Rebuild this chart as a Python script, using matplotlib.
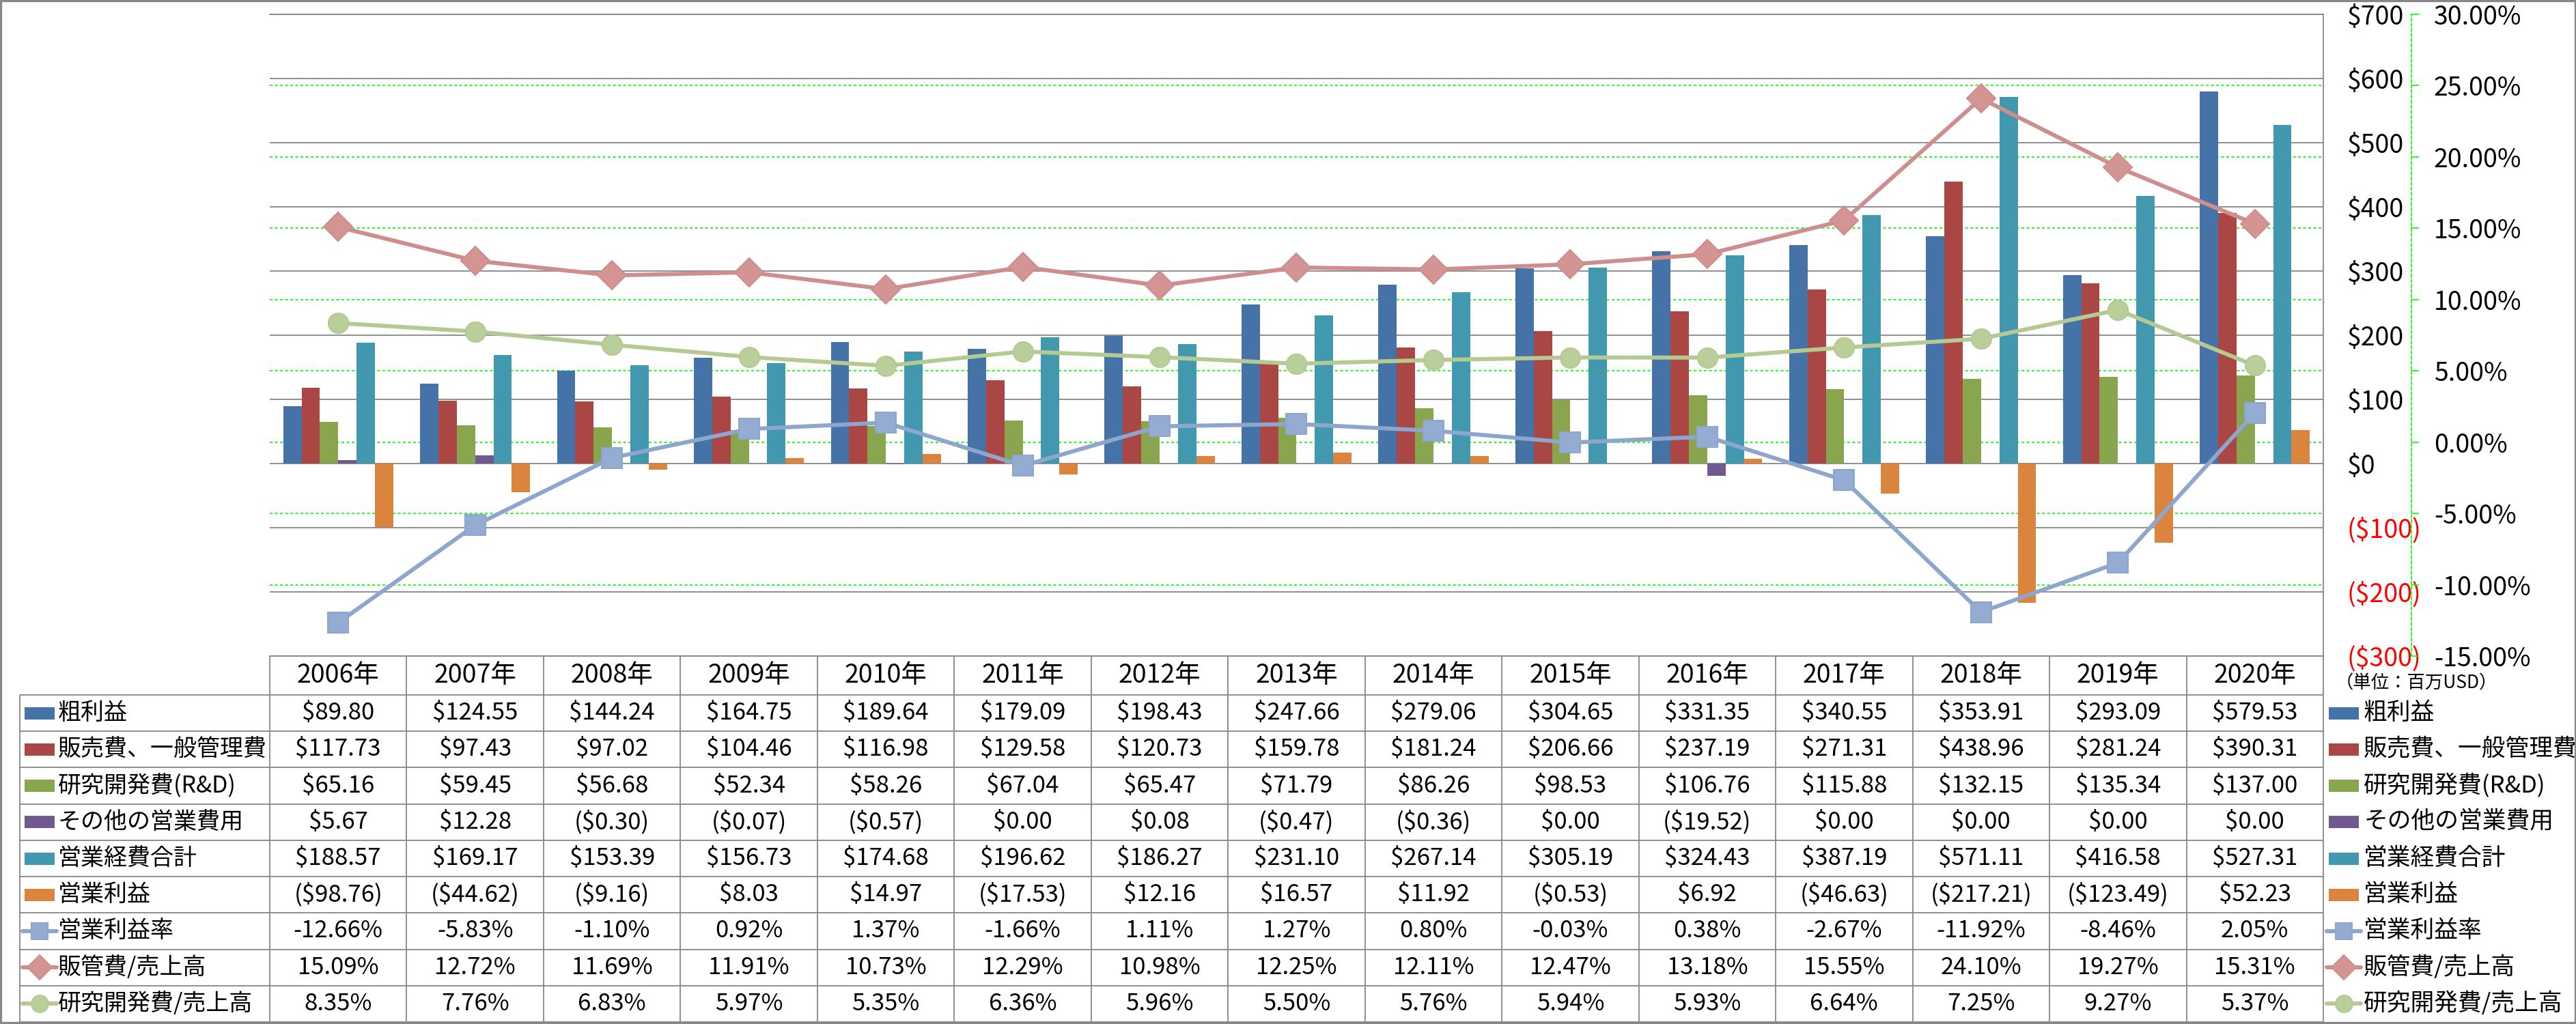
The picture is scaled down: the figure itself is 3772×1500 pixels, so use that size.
import matplotlib
matplotlib.use('Agg')
import matplotlib.pyplot as plt
from matplotlib.patches import Rectangle
import numpy as np

plt.rcParams['font.family'] = ['Noto Sans CJK JP', 'DejaVu Sans']

# ---------------- data ----------------
years = ['2006年', '2007年', '2008年', '2009年', '2010年', '2011年', '2012年', '2013年',
         '2014年', '2015年', '2016年', '2017年', '2018年', '2019年', '2020年']
gross_profit = [89.80, 124.55, 144.24, 164.75, 189.64, 179.09, 198.43, 247.66, 279.06, 304.65,
                331.35, 340.55, 353.91, 293.09, 579.53]
sga = [117.73, 97.43, 97.02, 104.46, 116.98, 129.58, 120.73, 159.78, 181.24, 206.66,
       237.19, 271.31, 438.96, 281.24, 390.31]
rnd = [65.16, 59.45, 56.68, 52.34, 58.26, 67.04, 65.47, 71.79, 86.26, 98.53,
       106.76, 115.88, 132.15, 135.34, 137.00]
other_opex = [5.67, 12.28, -0.30, -0.07, -0.57, 0.00, 0.08, -0.47, -0.36, 0.00,
              -19.52, 0.00, 0.00, 0.00, 0.00]
total_opex = [188.57, 169.17, 153.39, 156.73, 174.68, 196.62, 186.27, 231.10, 267.14, 305.19,
              324.43, 387.19, 571.11, 416.58, 527.31]
op_income = [-98.76, -44.62, -9.16, 8.03, 14.97, -17.53, 12.16, 16.57, 11.92, -0.53,
             6.92, -46.63, -217.21, -123.49, 52.23]
op_margin = [-12.66, -5.83, -1.10, 0.92, 1.37, -1.66, 1.11, 1.27, 0.80, -0.03,
             0.38, -2.67, -11.92, -8.46, 2.05]
sga_ratio = [15.09, 12.72, 11.69, 11.91, 10.73, 12.29, 10.98, 12.25, 12.11, 12.47,
             13.18, 15.55, 24.10, 19.27, 15.31]
rnd_ratio = [8.35, 7.76, 6.83, 5.97, 5.35, 6.36, 5.96, 5.50, 5.76, 5.94,
             5.93, 6.64, 7.25, 9.27, 5.37]

bar_names = ['粗利益', '販売費、一般管理費', '研究開発費(R&D)', 'その他の営業費用', '営業経費合計', '営業利益']
line_names = ['営業利益率', '販管費/売上高', '研究開発費/売上高']
usd_ticks = [-300, -200, -100, 0, 100, 200, 300, 400, 500, 600, 700]
pct_ticks = [-15, -10, -5, 0, 5, 10, 15, 20, 25, 30]
unit_label = '（単位：百万USD）'

# ---------------- styles ----------------
bar_series = [gross_profit, sga, rnd, other_opex, total_opex, op_income]
line_series = [op_margin, sga_ratio, rnd_ratio]
bar_colors = ['#4572A7', '#AA4643', '#89A54E', '#71588F', '#4198AF', '#DB843D']
line_colors = ['#8EA6CD', '#CF8E8E', '#B5CA92']
marker_faces = ['#94ACD1', '#D49494', '#BACE99']
markers = ['s', 'D', 'o']
marker_sizes = [21, 21, 21]
GRID_GRAY = '#878787'
GREEN = '#00FF00'
RED = '#FF0000'
FS_TICK = 27
FS_VAL = 25
FS_YEAR = 27
FS_ROW = 24.5
FS_LEG = 25
FS_UNIT = 19

W, H, DPI = 3773, 1500, 100
fig = plt.figure(figsize=(W / DPI, H / DPI), dpi=DPI)
fig.patch.set_facecolor('white')

PL, PR, PT, PB = 395, 3402, 21, 961
pos = [PL / W, 1 - PB / H, (PR - PL) / W, (PB - PT) / H]
n = len(years)
x = np.arange(n)


def money(v):
    return f"${v:,.2f}" if v >= 0 else f"(${-v:,.2f})"


def money_tick(v):
    return f"${v:,.0f}" if v >= 0 else f"(${-v:,.0f})"


def pct(v):
    return f"{v:.2f}%"


# background axes: green dashed gridlines of the secondary scale
axg = fig.add_axes(pos, zorder=0)
axg.set_xlim(-0.5, n - 0.5)
axg.set_ylim(pct_ticks[0], pct_ticks[-1])
axg.set_xticks([])
axg.set_yticks(pct_ticks)
axg.tick_params(left=False, labelleft=False)
axg.yaxis.grid(True, color=GREEN, lw=1.2, ls=(0, (2.5, 2)))
for s in axg.spines.values():
    s.set_visible(False)

# primary axes: bars
ax = fig.add_axes(pos, zorder=1)
ax.patch.set_alpha(0)
ax.set_xlim(-0.5, n - 0.5)
ax.set_ylim(usd_ticks[0], usd_ticks[-1])
ax.set_xticks([])
ax.yaxis.grid(True, color=GRID_GRAY, lw=1.3)
ax.set_axisbelow(True)
ax.spines['left'].set_visible(False)
for k in ['right', 'top', 'bottom']:
    ax.spines[k].set_color(GRID_GRAY)
    ax.spines[k].set_linewidth(1.3)

bw = 0.134
for k, (vals, col) in enumerate(zip(bar_series, bar_colors)):
    ax.bar(x + (k - 2.5) * bw, vals, width=bw, color=col, linewidth=0, zorder=2)

# secondary axes: lines
ax2 = ax.twinx()
ax2.set_zorder(2)
ax2.patch.set_alpha(0)
ax2.set_ylim(pct_ticks[0], pct_ticks[-1])
ax2.set_yticks(pct_ticks, labels=[pct(v) for v in pct_ticks])
for t, v in zip(ax2.yaxis.get_major_ticks(), pct_ticks):
    t.label1.set_color(RED if v < 0 else 'black')
    t.label2.set_color(RED if v < 0 else 'black')
ax2.tick_params(axis='y', direction='out', length=11 * 72 / DPI, width=1.2, color=GREEN,
                pad=22 * 72 / DPI, labelsize=FS_TICK)
ax2.spines['right'].set_position(('outward', (3531 - PR) * 72 / DPI))
ax2.spines['right'].set_color(GREEN)
ax2.spines['right'].set_linestyle((0, (2.5, 2)))
ax2.spines['right'].set_linewidth(1.2)
for k in ['left', 'top', 'bottom']:
    ax2.spines[k].set_visible(False)

# primary tick labels on the right (after twinx, which resets them to the left)
ax.set_yticks(usd_ticks, labels=[money_tick(v) for v in usd_ticks])
ax.yaxis.tick_right()
ax.tick_params(axis='y', which='both', left=False, right=False, labelleft=False,
               labelright=True, length=0, pad=25, labelsize=FS_TICK)
for t, v in zip(ax.yaxis.get_major_ticks(), usd_ticks):
    t.label1.set_color(RED if v < 0 else 'black')
    t.label2.set_color(RED if v < 0 else 'black')

for vals, col, fc, mk, ms in zip(line_series, line_colors, marker_faces, markers, marker_sizes):
    ax2.plot(x, vals, color=col, lw=4.3, marker=mk, ms=ms, mfc=fc, mec=col, mew=1.5,
             solid_joinstyle='round', zorder=3)

# ---------------- data table overlay ----------------
ov = fig.add_axes([0, 0, 1, 1], zorder=3)
ov.set_xlim(0, W)
ov.set_ylim(H, 0)
ov.axis('off')
ov.patch.set_alpha(0)

LX = 29
TT, HB, TB = PB, 1018, 1497
rows = len(bar_names) + len(line_names)
rh = (TB - HB) / rows
colw = (PR - PL) / n
x_edges = [PL + colw * i for i in range(n + 1)]
tl = dict(color=GRID_GRAY, lw=1.3, solid_capstyle='butt')

for xe in x_edges:
    ov.plot([xe, xe], [TT, TB], **tl)
ov.plot([LX, LX], [HB, TB], **tl)
for r in range(rows + 1):
    yy = HB + r * rh
    ov.plot([LX, PR], [yy, yy], **tl)

for i, yl in enumerate(years):
    ov.text(PL + colw * (i + 0.5), (TT + HB) / 2, yl, ha='center', va='center', fontsize=FS_YEAR)

table_rows = [[money(v) for v in s] for s in bar_series] + [[pct(v) for v in s] for s in line_series]
for r, cells in enumerate(table_rows):
    yc = HB + (r + 0.5) * rh
    for i, c in enumerate(cells):
        ov.text(PL + colw * (i + 0.5), yc, c, ha='center', va='center', fontsize=FS_VAL)


def draw_key(xk, yc, r):
    if r < len(bar_names):
        ov.add_patch(Rectangle((xk, yc - 9), 44, 18, facecolor=bar_colors[r], edgecolor='none'))
    else:
        j = r - len(bar_names)
        ov.plot([xk - 3, xk + 47], [yc, yc], color=line_colors[j], lw=4.3, solid_capstyle='round')
        ov.plot([xk + 22], [yc], marker=markers[j], ms=marker_sizes[j] * 0.85,
                mfc=marker_faces[j], mec=line_colors[j], mew=1.5, color=line_colors[j])


all_names = bar_names + line_names
for r, name in enumerate(all_names):
    yc = HB + (r + 0.5) * rh
    # left side (table row headers)
    draw_key(36, yc, r)
    ov.text(85, yc, name, ha='left', va='center', fontsize=FS_ROW)
    # right side legend
    draw_key(3410, yc, r)
    ov.text(3461, yc, name, ha='left', va='center', fontsize=FS_LEG)

ov.text(3420, 1001, unit_label, ha='left', va='center', fontsize=FS_UNIT)

# outer frame
fig.patches.append(Rectangle((0, 0), 1, 1, transform=fig.transFigure, fill=False,
                             edgecolor=GRID_GRAY, lw=4.5, zorder=10))

fig.savefig('out.png', dpi=DPI, facecolor='white')
